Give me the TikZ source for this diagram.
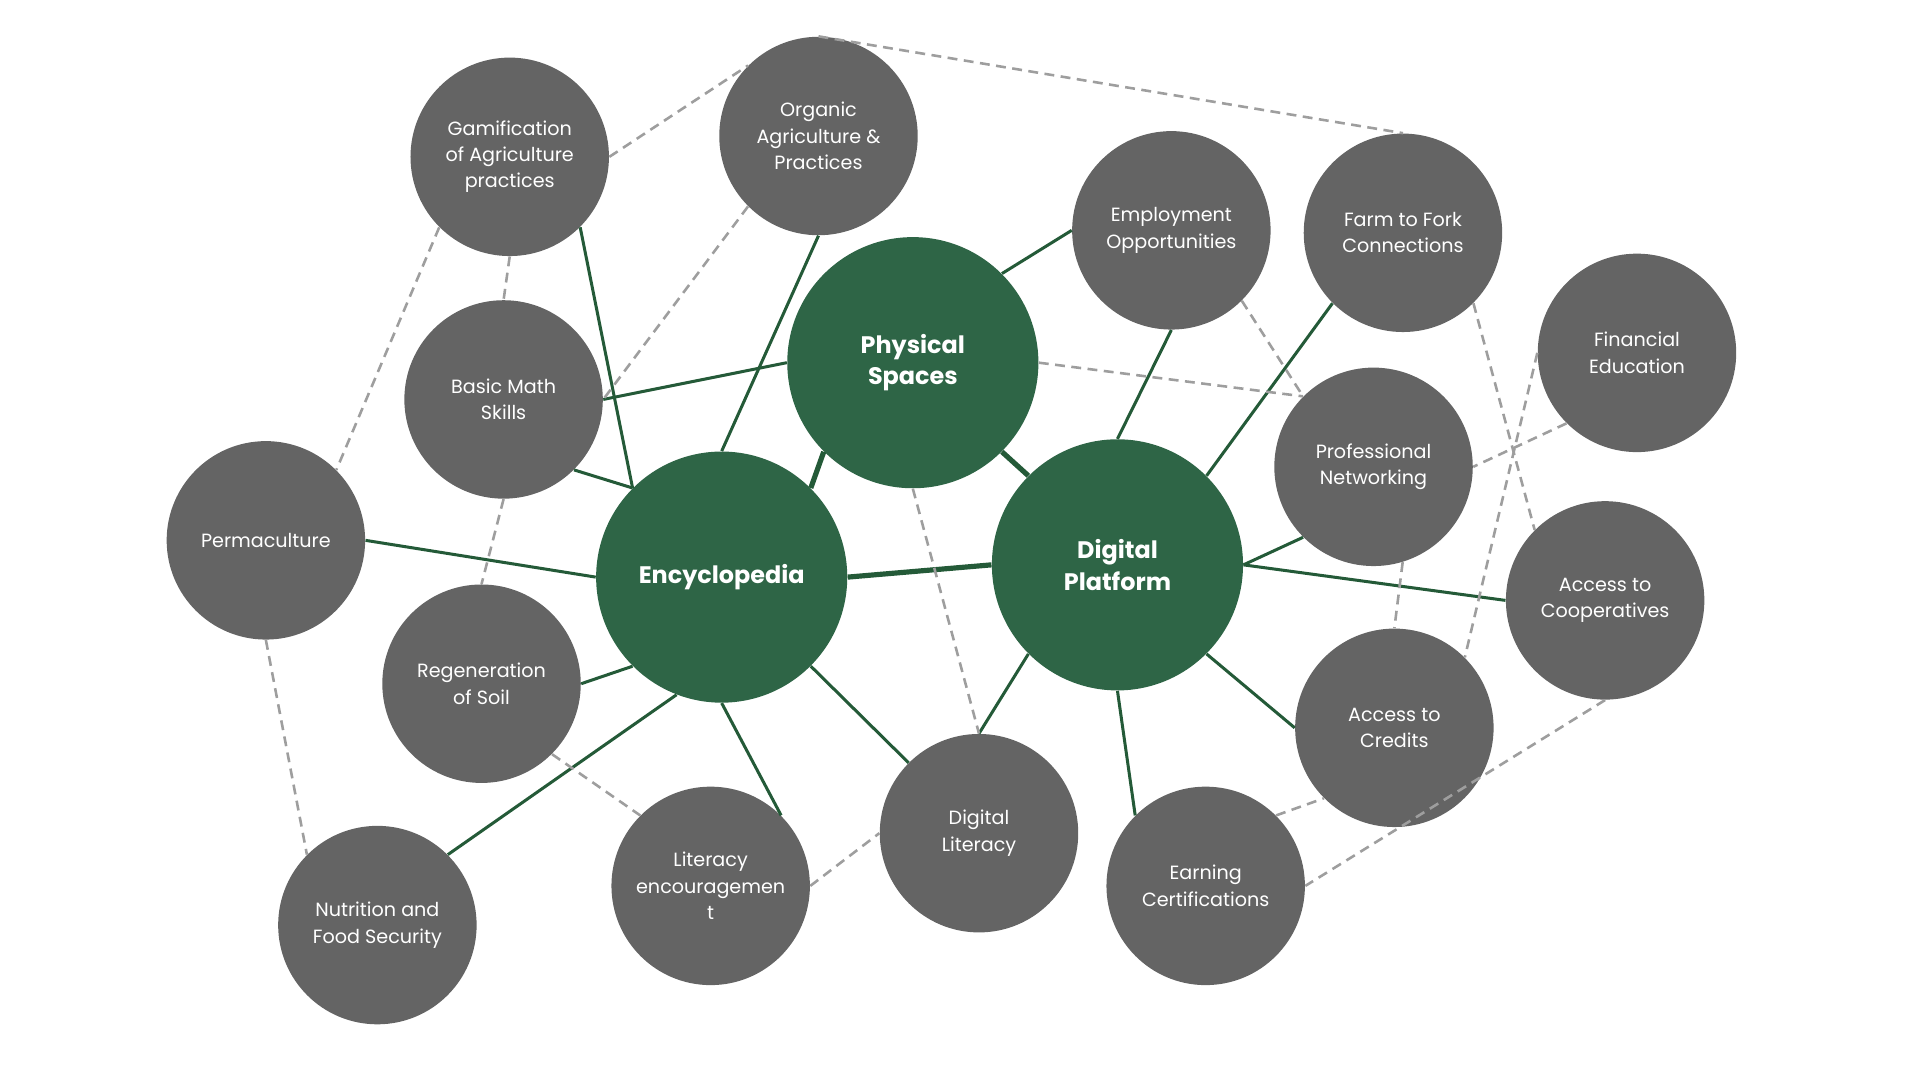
\documentclass[tikz,border=0pt]{standalone}
\usepackage{fontspec}
\setmainfont{Poppins}
\usepackage{xcolor}
\usetikzlibrary{shapes.geometric, positioning, calc}

\definecolor{hubgreen}{RGB}{46,101,70}
\definecolor{linkgreen}{RGB}{36,90,56}
\definecolor{topicgray}{RGB}{100,100,100}
\definecolor{dashgray}{RGB}{158,158,158}

\tikzset{
  topic/.style={circle, fill=topicgray, text=white, minimum size=3.24cm, inner sep=0pt, align=center, font=\fontsize{8.9}{12.2}\selectfont},
  hub/.style={circle, fill=hubgreen, text=white, minimum size=4.1cm, inner sep=0pt, align=center, font=\bfseries\fontsize{11.1}{14.7}\selectfont},
  link/.style={draw=linkgreen, line width=1.4pt},
  mainlink/.style={draw=linkgreen, line width=2.4pt},
  softlink/.style={draw=dashgray, line width=1.2pt, dash pattern=on 4.6pt off 3pt}
}

\begin{document}
\begin{tikzpicture}[x=0.02cm, y=-0.02cm]
\useasboundingbox (0,0) rectangle (1567,881.4);

% hubs
\node[hub] (phys) at (745,296) {Physical\\Spaces};
\node[hub] (enc) at (589,471) {Encyclopedia};
\node[hub] (plat) at (912,461) {Digital\\Platform};

% topics, left side
\node[topic] (gam) at (416,128) {Gamification\\of Agriculture\\practices};
\node[topic] (org) at (668,111) {Organic\\Agriculture \&\\Practices};
\node[topic] (math) at (411,326) {Basic Math\\Skills};
\node[topic] (perm) at (217,441) {Permaculture};
\node[topic] (soil) at (393,558) {Regeneration\\of Soil};
\node[topic] (food) at (308,755) {Nutrition and\\Food Security};
\node[topic] (lit) at (580,723) {Literacy\\encouragemen\\t};
\node[topic] (dlit) at (799,680) {Digital\\Literacy};

% topics, right side
\node[topic] (emp) at (956,188) {Employment\\Opportunities};
\node[topic] (fork) at (1145,190) {Farm to Fork\\Connections};
\node[topic] (fin) at (1336,288) {Financial\\Education};
\node[topic] (net) at (1121,381) {Professional\\Networking};
\node[topic] (coop) at (1310,490) {Access to\\Cooperatives};
\node[topic] (cred) at (1138,594) {Access to\\Credits};
\node[topic] (cert) at (984,723) {Earning\\Certifications};

% links between hubs
\draw[mainlink] (enc.north east) -- (phys.south west);
\draw[mainlink] (enc.east) -- (plat.west);
\draw[mainlink] (phys.south east) -- (plat.north west);

% hub links
\draw[link] (gam.south east) -- (enc.north west);
\draw[link] (org.south) -- (enc.north);
\draw[link] (math.south east) -- (enc.north west);
\draw[link] (math.east) -- (phys.west);
\draw[link] (perm.east) -- (enc.west);
\draw[link] (soil.east) -- (enc.south west);
\draw[link] (food.north east) -- (enc.249);
\draw[link] (enc.south) -- (lit.north east);
\draw[link] (enc.south east) -- (dlit.north west);
\draw[link] (phys.north east) -- (emp.west);
\draw[link] (plat.north) -- (emp.south);
\draw[link] (plat.north east) -- (fork.south west);
\draw[link] (plat.east) -- (net.south west);
\draw[link] (plat.east) -- (coop.west);
\draw[link] (plat.south east) -- (cred.west);
\draw[link] (plat.south) -- (cert.north west);
\draw[link] (plat.south west) -- (dlit.north);

% dashed links between topics
\draw[softlink] (gam.east) -- (org.north west);
\draw[softlink] (org.north) -- (fork.north);
\draw[softlink] (gam.south) -- (math.north);
\draw[softlink] (gam.south west) -- (perm.north east);
\draw[softlink] (org.south west) -- (math.east);
\draw[softlink] (math.south) -- (soil.north);
\draw[softlink] (perm.south) -- (food.north west);
\draw[softlink] (soil.south east) -- (lit.north west);
\draw[softlink] (lit.east) -- (dlit.west);
\draw[softlink] (phys.south) -- (dlit.north);
\draw[softlink] (phys.east) -- (net.north west);
\draw[softlink] (emp.south east) -- (net.north west);
\draw[softlink] (fork.south east) -- (coop.north west);
\draw[softlink] (fin.south west) -- (net.east);
\draw[softlink] (fin.west) -- (cred.north east);
\draw[softlink] (net.-73) -- (cred.north);
\draw[softlink] (cert.north east) -- (cred.south west);
\draw[softlink] (coop.south) -- (cert.east);
\end{tikzpicture}
\end{document}
